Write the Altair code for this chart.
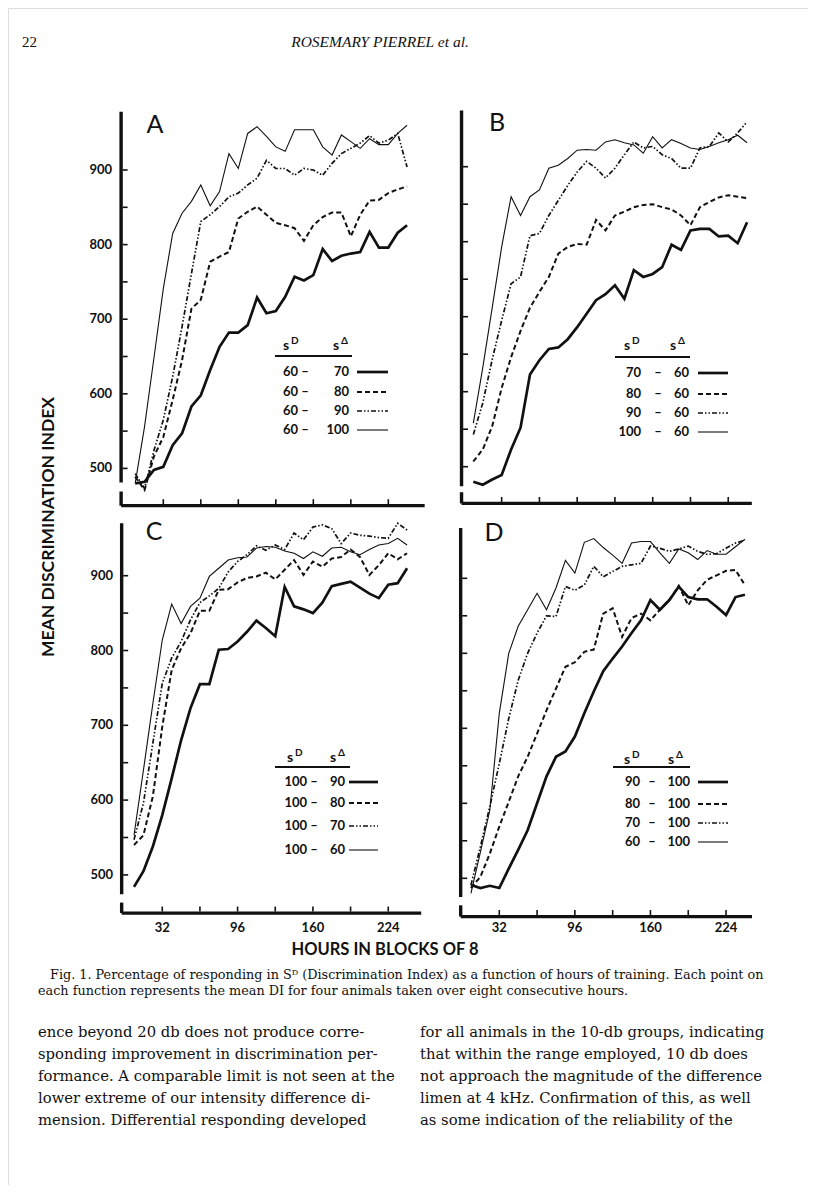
import altair as alt
import pandas as pd

# ---------------- data ----------------
HOURS = [8 * k for k in range(1, 31)]

A_60_70 = [480, 482, 498, 502, 531, 547, 583, 598, 632, 663, 682, 682, 692, 729, 708, 711, 730, 757, 752, 759, 794, 778, 785, 788, 790, 817, 796, 796, 816, 826]
A_60_80 = [489, 471, 516, 542, 592, 645, 714, 726, 777, 784, 790, 835, 844, 851, 840, 829, 826, 822, 805, 826, 837, 843, 843, 811, 840, 859, 860, 869, 874, 878]
A_60_90 = [493, 473, 524, 565, 623, 690, 761, 831, 840, 851, 864, 869, 880, 889, 913, 902, 902, 893, 902, 900, 893, 909, 922, 929, 936, 946, 936, 940, 949, 904]
A_60_100 = [480, 556, 648, 741, 815, 842, 858, 880, 852, 871, 922, 902, 949, 958, 945, 931, 925, 954, 954, 954, 931, 920, 947, 938, 929, 942, 934, 934, 949, 960]

B_70_60 = [480, 476, 483, 489, 523, 552, 623, 642, 657, 659, 670, 686, 704, 722, 730, 742, 724, 762, 753, 757, 766, 796, 789, 815, 817, 817, 807, 808, 798, 826]
B_80_60 = [507, 523, 554, 605, 646, 681, 712, 733, 753, 784, 793, 797, 796, 829, 815, 835, 840, 846, 849, 850, 846, 843, 835, 822, 846, 853, 859, 862, 860, 858]
B_90_60 = [543, 585, 643, 695, 744, 753, 808, 811, 835, 855, 875, 893, 907, 898, 885, 898, 916, 933, 925, 927, 916, 911, 898, 898, 925, 927, 945, 933, 945, 960]
B_100_60 = [558, 632, 712, 793, 860, 835, 860, 869, 898, 902, 911, 922, 923, 922, 933, 936, 932, 929, 918, 940, 925, 936, 931, 925, 923, 927, 932, 936, 942, 932]

C_100_90 = [484, 505, 538, 580, 629, 680, 723, 755, 755, 801, 802, 812, 825, 840, 830, 819, 885, 859, 855, 850, 864, 886, 889, 892, 884, 876, 870, 888, 890, 910]
C_100_80 = [540, 553, 605, 698, 774, 803, 823, 853, 853, 881, 882, 891, 897, 899, 904, 895, 908, 921, 901, 919, 912, 923, 925, 935, 925, 901, 914, 930, 922, 930]
C_100_70 = [547, 596, 676, 756, 790, 812, 841, 864, 873, 883, 905, 919, 928, 940, 934, 941, 935, 957, 948, 965, 968, 963, 943, 957, 954, 953, 951, 950, 970, 961]
C_100_60 = [553, 640, 729, 814, 862, 836, 859, 870, 899, 910, 921, 924, 925, 937, 939, 938, 933, 930, 923, 932, 926, 937, 938, 932, 928, 935, 941, 943, 950, 941]

D_90_100 = [491, 487, 490, 487, 513, 538, 564, 600, 636, 662, 669, 689, 720, 749, 776, 793, 809, 827, 844, 871, 858, 871, 889, 875, 872, 872, 862, 851, 875, 878]
D_80_100 = [487, 502, 533, 569, 602, 636, 662, 693, 724, 753, 782, 788, 802, 805, 853, 860, 822, 847, 853, 844, 858, 871, 890, 864, 884, 898, 904, 910, 911, 891]
D_70_100 = [491, 542, 596, 653, 713, 764, 800, 827, 850, 849, 889, 884, 891, 916, 902, 909, 916, 918, 920, 943, 940, 936, 939, 943, 936, 932, 933, 940, 947, 951]
D_60_100 = [480, 535, 591, 720, 800, 836, 858, 880, 858, 887, 924, 907, 948, 953, 941, 931, 920, 947, 949, 949, 934, 920, 939, 934, 925, 937, 932, 932, 942, 952]

A_SD = ["60", "60", "60", "60"]
A_SA = ["70", "80", "90", "100"]
B_SD = ["70", "80", "90", "100"]
B_SA = ["60", "60", "60", "60"]
C_SD = ["100", "100", "100", "100"]
C_SA = ["90", "80", "70", "60"]
D_SD = ["90", "80", "70", "60"]
D_SA = ["100", "100", "100", "100"]

Y_TICKS = [500, 550, 600, 650, 700, 750, 800, 850, 900]
Y_LABELS = [500, 600, 700, 800, 900]
X_TICKS = [32, 64, 96, 128, 160, 192, 224]
X_LABELS = [32, 96, 160, 224]

HEADER_NUM = "22"
HEADER_TITLE = "ROSEMARY PIERREL et al."
Y_TITLE = "MEAN DISCRIMINATION INDEX"
X_TITLE = "HOURS IN BLOCKS OF 8"
CAPTION = [
    "Fig. 1. Percentage of responding in S\u1d30 (Discrimination Index) as a function of hours of training. Each point on",
    "each function represents the mean DI for four animals taken over eight consecutive hours.",
]
BODY_LEFT = [
    "ence beyond 20 db does not produce corre-",
    "sponding improvement in discrimination per-",
    "formance. A comparable limit is not seen at the",
    "lower extreme of our intensity difference di-",
    "mension. Differential responding developed",
]
BODY_RIGHT = [
    "for all animals in the 10-db groups, indicating",
    "that within the range employed, 10 db does",
    "not approach the magnitude of the difference",
    "limen at 4 kHz. Confirmation of this, as well",
    "as some indication of the reliability of the",
]

# ---------------- styling / layout ----------------
M = 8
INK = "#111111"
SANS = "Lato"
SERIF = "Liberation Serif"
SERIF_WIDE = "DejaVu Serif"

STYLES = [
    dict(strokeWidth=2.7),
    dict(strokeWidth=2.0, strokeDash=[5, 3]),
    dict(strokeWidth=1.7, strokeDash=[5, 2, 1.5, 2, 1.5, 2]),
    dict(strokeWidth=1.1),
]

LAYOUT = {
    "A": dict(x0=125.8, sx=1.172, xdom=[-4, 255], y900=170.0, sy=0.746, ydom=[450, 978], brk=[469, 481],
              letter=(155, 125), ylab_x=112, xlabels=False,
              lg=dict(hy=346, s1=283, s2=333, uy=356, ux=(275, 352), rows=[372, 392, 411, 430],
                      ln=298, dash=305, rn=349, samp=(357, 388))),
    "B": dict(x0=463.9, sx=1.180, xdom=[-2, 244], y900=166.7, sy=0.750, ydom=[451, 975], brk=[466, 474],
              letter=(497, 123), ylab_x=None, xlabels=False,
              lg=dict(hy=346, s1=624, s2=670, uy=357, ux=(615, 690), rows=[373, 394, 413, 432],
                      ln=641, dash=658, rn=689, samp=(698, 728))),
    "C": dict(x0=124.6, sx=1.177, xdom=[-2.5, 252], y900=575.7, sy=0.748, ydom=[449, 970], brk=[463, 474],
              letter=(154, 532), ylab_x=113, xlabels=True,
              lg=dict(hy=758, s1=287, s2=330, uy=767, ux=(275, 350), rows=[782, 803, 826, 850],
                      ln=307, dash=314, rn=345, samp=(349, 378))),
    "D": dict(x0=461.5, sx=1.181, xdom=[-0.7, 246], y900=578.3, sy=0.750, ydom=[449, 967], brk=[464, 475],
              letter=(494, 533), ylab_x=None, xlabels=True,
              lg=dict(hy=760, s1=624, s2=668, uy=767, ux=(613, 690), rows=[782, 804, 823, 842],
                      ln=640, dash=652, rn=690, samp=(698, 728))),
}
XLAB_Y = 928

one = pd.DataFrame({"d": [0]})


def txt(s, x, y, size, font=SANS, weight="normal", align="left", baseline="middle", style="normal", angle=None):
    kw = dict(text=s, font=font, fontSize=size, fontWeight=weight, align=align,
              baseline=baseline, fontStyle=style, color=INK)
    if angle is not None:
        kw["angle"] = angle
    return alt.Chart(one).mark_text(**kw).encode(x=alt.value(x - M), y=alt.value(y - M))


def panel(key, series, sd, sa):
    L = LAYOUT[key]
    xd, yd = L["xdom"], L["ydom"]
    xr = [L["x0"] + L["sx"] * xd[0] - M, L["x0"] + L["sx"] * xd[1] - M]
    yr = [L["y900"] + (900 - yd[0]) * L["sy"] - M, L["y900"] - (yd[1] - 900) * L["sy"] - M]
    xs = alt.Scale(domain=xd, range=xr, nice=False, zero=False)
    ys = alt.Scale(domain=yd, range=yr, nice=False, zero=False)

    def X(f):
        return alt.X(f, type="quantitative", scale=xs, axis=None)

    def Y(f):
        return alt.Y(f, type="quantitative", scale=ys, axis=None)

    layers = []
    for vals, st in zip(series, STYLES):
        df = pd.DataFrame({"h": HOURS, "v": vals})
        layers.append(alt.Chart(df).mark_line(color=INK, strokeJoin="miter", **st)
                      .encode(x=X("h"), y=Y("v")))

    axdf = pd.DataFrame({"a": [xd[0]], "b": [xd[1]], "y0": [yd[0]], "y1": [yd[1]],
                         "b0": [L["brk"][0]], "b1": [L["brk"][1]]})
    layers.append(alt.Chart(axdf).mark_rule(color=INK, strokeWidth=3.2)
                  .encode(x=X("a"), x2=alt.X2("b"), y=Y("y0")))
    layers.append(alt.Chart(axdf).mark_rule(color=INK, strokeWidth=3.4)
                  .encode(x=X("a"), y=Y("b1"), y2=alt.Y2("y1")))
    layers.append(alt.Chart(axdf).mark_rule(color=INK, strokeWidth=3.4)
                  .encode(x=X("a"), y=Y("y0"), y2=alt.Y2("b0")))

    ytk = pd.DataFrame({"v": Y_TICKS, "a": xd[0]})
    layers.append(alt.Chart(ytk).mark_tick(orient="horizontal", size=5, thickness=1.6, xOffset=4,
                                           color=INK, opacity=1)
                  .encode(x=X("a"), y=Y("v")))
    xtk = pd.DataFrame({"h": X_TICKS, "a": yd[0]})
    layers.append(alt.Chart(xtk).mark_tick(orient="vertical", size=5, thickness=1.6, yOffset=-4,
                                           color=INK, opacity=1)
                  .encode(x=X("h"), y=Y("a")))

    if L["ylab_x"] is not None:
        yl = pd.DataFrame({"v": Y_LABELS, "t": [str(v) for v in Y_LABELS]})
        layers.append(alt.Chart(yl).mark_text(align="right", baseline="middle", font=SANS, fontSize=13,
                                              fontWeight="bold", color=INK)
                      .encode(x=alt.value(L["ylab_x"] - M), y=Y("v"), text="t:N"))
    if L["xlabels"]:
        xl = pd.DataFrame({"h": X_LABELS, "t": [str(v) for v in X_LABELS]})
        layers.append(alt.Chart(xl).mark_text(align="center", baseline="middle", font=SANS, fontSize=13,
                                              fontWeight="bold", color=INK)
                      .encode(x=X("h"), y=alt.value(XLAB_Y - M), text="t:N"))

    lx, ly = L["letter"]
    layers.append(txt(key, lx, ly, 25, align="center"))

    g = L["lg"]
    layers.append(txt("s", g["s1"], g["hy"], 14, weight="bold"))
    layers.append(txt("D", g["s1"] + 8, g["hy"] - 5, 10, weight="bold"))
    layers.append(txt("s", g["s2"], g["hy"], 14, weight="bold"))
    layers.append(txt("\u0394", g["s2"] + 8, g["hy"] - 5, 10, weight="bold"))
    layers.append(alt.Chart(one).mark_rule(color=INK, strokeWidth=2.2)
                  .encode(x=alt.value(g["ux"][0] - M), x2=alt.value(g["ux"][1] - M), y=alt.value(g["uy"] - M)))
    for i, ry in enumerate(g["rows"]):
        layers.append(txt(sd[i], g["ln"], ry, 13, weight="bold", align="right"))
        layers.append(txt("\u2013", g["dash"], ry, 13, weight="bold", align="center"))
        layers.append(txt(sa[i], g["rn"], ry, 13, weight="bold", align="right"))
        layers.append(alt.Chart(one).mark_rule(color=INK, **STYLES[i])
                      .encode(x=alt.value(g["samp"][0] - M), x2=alt.value(g["samp"][1] - M),
                              y=alt.value(ry - M)))
    return alt.layer(*layers)


pA = panel("A", [A_60_70, A_60_80, A_60_90, A_60_100], A_SD, A_SA)
pB = panel("B", [B_70_60, B_80_60, B_90_60, B_100_60], B_SD, B_SA)
pC = panel("C", [C_100_90, C_100_80, C_100_70, C_100_60], C_SD, C_SA)
pD = panel("D", [D_90_100, D_80_100, D_70_100, D_60_100], D_SD, D_SA)

texts = [
    txt(HEADER_NUM, 22, 42, 15, font=SERIF),
    txt(HEADER_TITLE, 380, 42, 15.5, font=SERIF, style="italic", align="center"),
    txt(Y_TITLE, 49, 527, 17.5, weight="bold", align="center", angle=270),
    txt(X_TITLE, 385, 950, 16.5, weight="bold", align="center"),
    txt(CAPTION[0], 50, 975, 12.8, font=SERIF_WIDE),
    txt(CAPTION[1], 38, 991, 12.8, font=SERIF_WIDE),
]
for i, s in enumerate(BODY_LEFT):
    texts.append(txt(s, 38, 1033 + 22 * i, 14.8, font=SERIF_WIDE))
for i, s in enumerate(BODY_RIGHT):
    texts.append(txt(s, 420, 1033 + 22 * i, 14.8, font=SERIF_WIDE))

chart = (
    alt.layer(pA, pB, pC, pD, *texts)
    .resolve_scale(x="independent", y="independent")
    .properties(width=800, height=1177, padding=0, autosize=alt.AutoSizeParams(type="none"))
    .configure_view(stroke=None)
    .configure(background="white")
)

chart.save("out.html", embed_options={"renderer": "svg", "actions": False})
